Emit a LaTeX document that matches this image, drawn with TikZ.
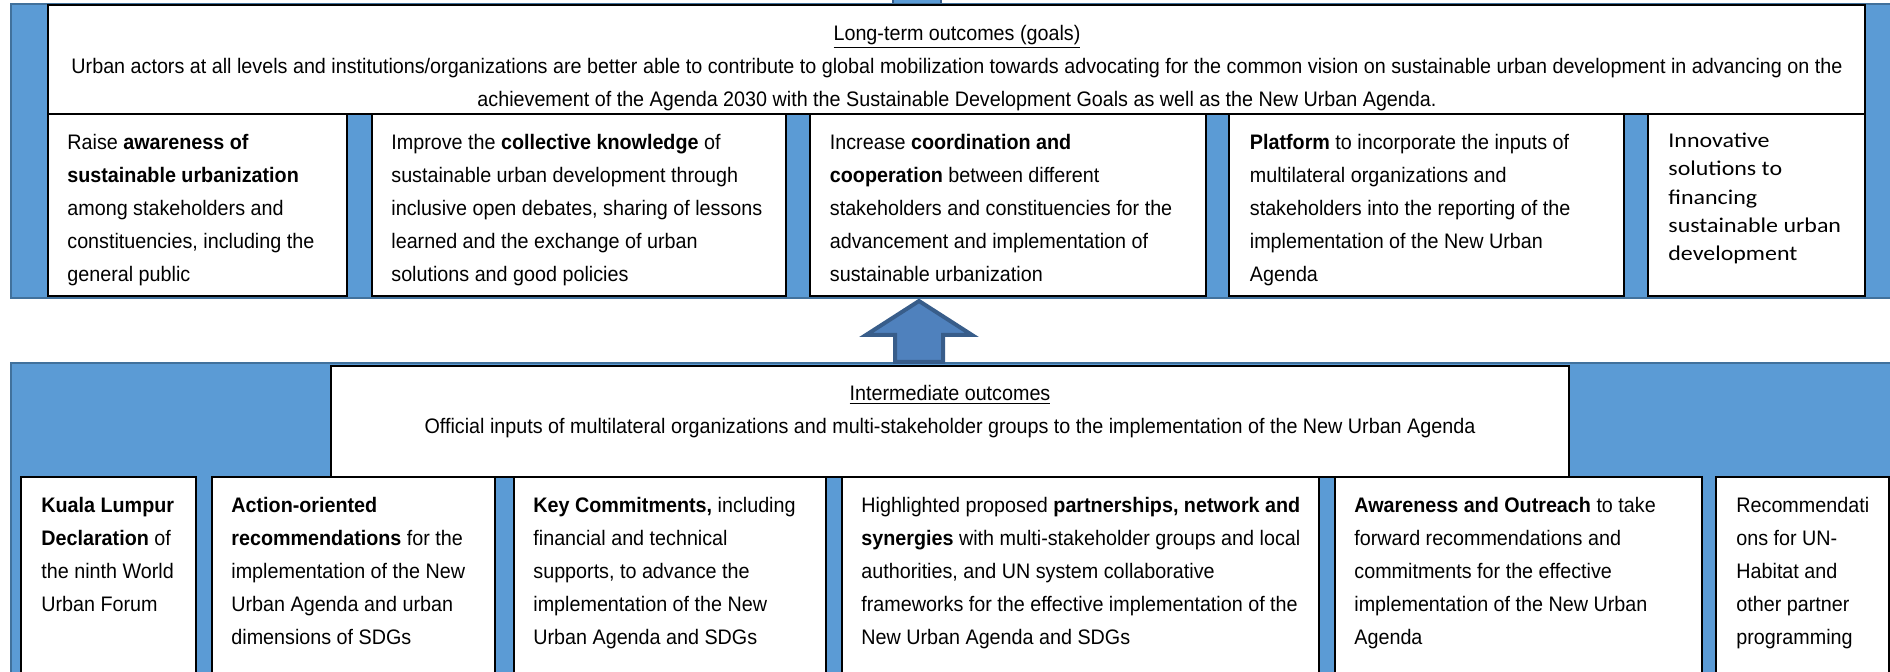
\documentclass[tikz,border=0pt]{standalone}
\usepackage{fontspec}
\newfontfamily\narrow[FakeStretch=0.94]{Liberation Sans}
\newfontfamily\calib[FakeStretch=1.14]{Carlito}
\definecolor{frameblue}{RGB}{91,155,213}
\definecolor{frameedge}{RGB}{65,113,156}
\definecolor{arrowfill}{RGB}{79,129,189}
\definecolor{arrowedge}{RGB}{56,93,138}
\tikzset{
  frame/.style={fill=frameblue, draw=frameedge, line width=0.6pt},
  wbox/.style={fill=white, draw=black, line width=0.75pt},
  txt/.style={anchor=north west, inner sep=0pt, align=left, font=\narrow\fontsize{10.5}{16.5}\selectfont},
  ctxt/.style={anchor=north, inner sep=0pt, align=center, font=\narrow\fontsize{10.5}{16.5}\selectfont},
  ctxtb/.style={anchor=north west, inner sep=0pt, align=left, font=\calib\fontsize{10.5}{14.15}\selectfont},
  bigarrow/.style={fill=arrowfill, draw=arrowedge, line width=2pt, line join=miter},
}
\begin{document}
\begin{tikzpicture}[x=0.5pt, y=-0.5pt]
\useasboundingbox (0,0) rectangle (1890,672);
\clip (0,0) rectangle (1890,672);
\fill[white] (0,0) rectangle (1890,672);

% ---------- top (long-term outcomes) ----------
\draw[fill=frameblue, draw=arrowedge, line width=1pt] (893,-20) rectangle (941,5);
\draw[frame] (11,4) rectangle (1900,298);
\draw[wbox] (48,5) rectangle (1865,114);
\node[ctxt] (goalhead) at (957,16.9) {\strut\underline{Long-term outcomes (goals)}\\
Urban actors at all levels and institutions/organizations are better able to contribute to global mobilization towards advocating for the common vision on sustainable urban development in advancing on the\\
achievement of the Agenda 2030 with the Sustainable Development Goals as well as the New Urban Agenda.};

\draw[wbox] (48,114) rectangle (347,296);
\draw[wbox] (372,114) rectangle (786,296);
\draw[wbox] (810,114) rectangle (1206,296);
\draw[wbox] (1229,114) rectangle (1624,296);
\draw[wbox] (1648,114) rectangle (1865,296);

\node[txt] (g1) at (67,126.5) {\strut Raise \textbf{awareness of}\\ \textbf{sustainable urbanization}\\ among stakeholders and\\ constituencies, including the\\ general public};
\node[txt] (g2) at (391,126.5) {\strut Improve the \textbf{collective knowledge} of\\ sustainable urban development through\\ inclusive open debates, sharing of lessons\\ learned and the exchange of urban\\ solutions and good policies};
\node[txt] (g3) at (829.5,126.5) {\strut Increase \textbf{coordination and}\\ \textbf{cooperation} between different\\ stakeholders and constituencies for the\\ advancement and implementation of\\ sustainable urbanization};
\node[txt] (g4) at (1249.5,126.5) {\strut\textbf{Platform} to incorporate the inputs of\\ multilateral organizations and\\ stakeholders into the reporting of the\\ implementation of the New Urban\\ Agenda};
\node[ctxtb] (g5) at (1668,127.2) {\strut Innovative\\ solutions to\\ financing\\ sustainable urban\\ development};

% ---------- bottom (intermediate outcomes) ----------
\draw[frame] (11,363) rectangle (1900,690);
\draw[wbox] (331,366) rectangle (1569,477);
\node[ctxt] (midhead) at (950,376.9) {\strut\underline{Intermediate outcomes}\\
Official inputs of multilateral organizations and multi-stakeholder groups to the implementation of the New Urban Agenda};

\draw[wbox] (21,477) rectangle (196,690);
\draw[wbox] (212,477) rectangle (495,690);
\draw[wbox] (514,477) rectangle (826,690);
\draw[wbox] (842,477) rectangle (1319,690);
\draw[wbox] (1335,477) rectangle (1702,690);
\draw[wbox] (1716,477) rectangle (1889,690);

\node[txt] (m1) at (41,488.9) {\strut\textbf{Kuala Lumpur}\\ \textbf{Declaration} of\\ the ninth World\\ Urban Forum};
\node[txt] (m2) at (231,488.9) {\strut\textbf{Action-oriented}\\ \textbf{recommendations} for the\\ implementation of the New\\ Urban Agenda and urban\\ dimensions of SDGs};
\node[txt] (m3) at (533,488.9) {\strut\textbf{Key Commitments,} including\\ financial and technical\\ supports, to advance the\\ implementation of the New\\ Urban Agenda and SDGs};
\node[txt] (m4) at (861,488.9) {\strut Highlighted proposed \textbf{partnerships, network and}\\ \textbf{synergies} with multi-stakeholder groups and local\\ authorities, and UN system collaborative\\ frameworks for the effective implementation of the\\ New Urban Agenda and SDGs};
\node[txt] (m5) at (1354,488.9) {\strut\textbf{Awareness and Outreach} to take\\ forward recommendations and\\ commitments for the effective\\ implementation of the New Urban\\ Agenda};
\node[txt] (m6) at (1736,488.9) {\strut Recommendati\\ ons for UN-\\ Habitat and\\ other partner\\ programming};

% ---------- block arrow from intermediate to long-term ----------
\coordinate (atip) at (919,301);
\coordinate (abase) at (919,362);
\draw[bigarrow] (abase) -- (943,362) -- (943,335) -- (972,335) -- (atip) -- (866,335) -- (895,335) -- (895,362) -- cycle;
\end{tikzpicture}
\end{document}
